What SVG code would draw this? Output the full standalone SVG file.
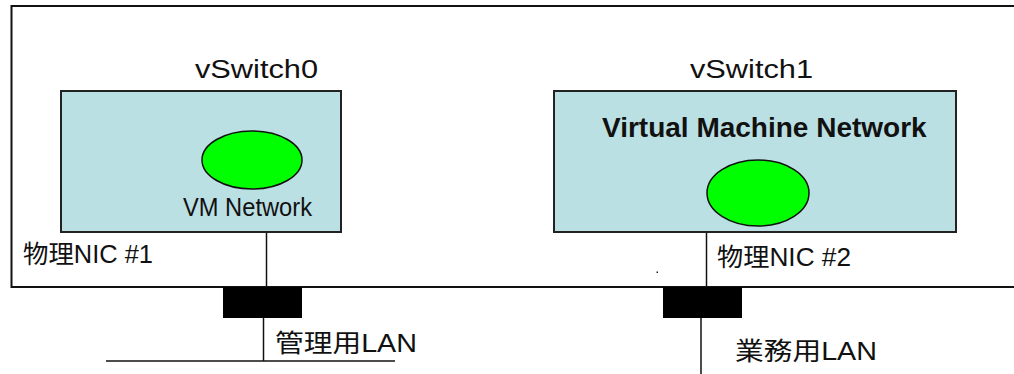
<svg xmlns="http://www.w3.org/2000/svg" width="1014" height="374" viewBox="0 0 1014 374">
  <style>
    .label { font-family: "Liberation Sans", "Noto Sans CJK JP", sans-serif; font-size: 25px; fill: #111; }
    .bold { font-weight: bold; font-size: 28px; }
    .host { fill: #fff; stroke: #111; stroke-width: 2; }
    .switch { fill: #BBE0E3; stroke: #222; stroke-width: 2; }
    .portgroup { fill: #00FF00; stroke: #111; stroke-width: 1.5; }
    .nic { fill: #000; }
    .wire { stroke: #111; stroke-width: 1.5; fill: none; }
  </style>

  <rect width="1014" height="374" fill="#fff"/>

  <!-- ESXi host boundary (runs off the right edge) -->
  <g id="host">
    <rect class="host" x="11.5" y="6" width="1020" height="281"/>
  </g>

  <g id="connectors">
    <line class="wire" x1="266.5" y1="233" x2="266.5" y2="287"/>
    <line class="wire" x1="263.5" y1="318" x2="263.5" y2="361"/>
    <line class="wire" x1="106" y1="361" x2="395" y2="361"/>
    <line class="wire" x1="706.5" y1="233" x2="706.5" y2="287"/>
    <line class="wire" x1="701" y1="318" x2="701" y2="374"/>
  </g>

  <g id="vswitch0">
    <text class="label" x="195" y="78" textLength="123" lengthAdjust="spacingAndGlyphs">vSwitch0</text>
    <rect class="switch" x="61" y="91" width="280" height="141"/>
    <ellipse class="portgroup" cx="252" cy="160" rx="50" ry="29"/>
    <text class="label" x="183" y="216" font-size="23" textLength="129" lengthAdjust="spacingAndGlyphs">VM Network</text>
  </g>

  <g id="vswitch1">
    <text class="label" x="690" y="78" textLength="123" lengthAdjust="spacingAndGlyphs">vSwitch1</text>
    <rect class="switch" x="554" y="91" width="402" height="141"/>
    <text class="label bold" x="602" y="137">Virtual Machine Network</text>
    <ellipse class="portgroup" cx="758" cy="193" rx="51" ry="33"/>
  </g>

  <g id="nic1">
    <text class="label" x="23" y="263" textLength="130" lengthAdjust="spacingAndGlyphs">物理NIC #1</text>
    <rect class="nic" x="223" y="287" width="79" height="31"/>
  </g>

  <g id="nic2">
    <text class="label" x="717" y="266" textLength="134" lengthAdjust="spacingAndGlyphs">物理NIC #2</text>
    <rect class="nic" x="663" y="287" width="79" height="31"/>
  </g>

  <g id="mgmt-lan">
    <text class="label" x="275" y="352" textLength="142" lengthAdjust="spacingAndGlyphs">管理用LAN</text>
  </g>

  <g id="prod-lan">
    <text class="label" x="735" y="360" textLength="142" lengthAdjust="spacingAndGlyphs">業務用LAN</text>
  </g>

  <rect x="656.5" y="271.5" width="1.5" height="1.5" fill="#222"/>
</svg>
